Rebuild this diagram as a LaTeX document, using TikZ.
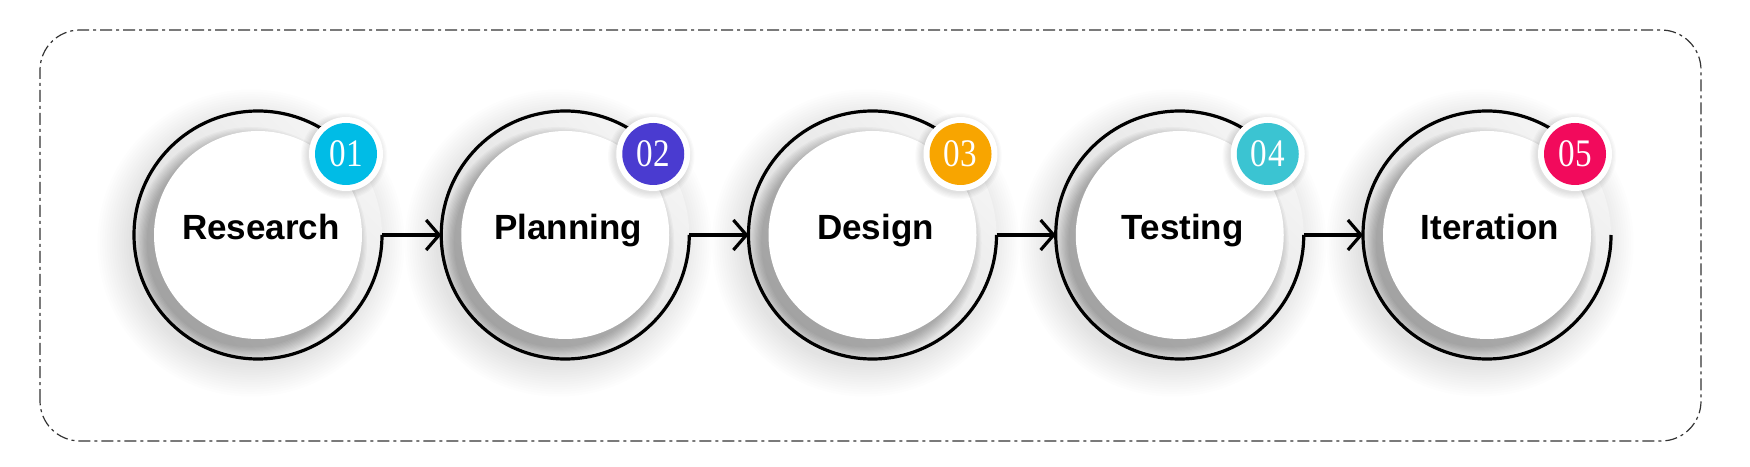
\documentclass[tikz,border=0pt]{standalone}
\usepackage{fontspec}
\setmainfont{Liberation Sans}
\newfontfamily\numfont{Liberation Serif}
\usetikzlibrary{arrows.meta}
\definecolor{bA}{HTML}{00BCE6}
\definecolor{bB}{HTML}{4A3BD0}
\definecolor{bC}{HTML}{F8A500}
\definecolor{bD}{HTML}{3BC4D2}
\definecolor{bE}{HTML}{F20A5C}
\definecolor{frame}{HTML}{333333}
\tikzset{
  ringline/.style={line width=3.2pt, draw=black},
  arr/.style={line width=3.2pt, -{Straight Barb[length=13pt,width=30pt]}},
  lbl/.style={font=\bfseries\fontsize{35}{40}\selectfont, anchor=base, inner sep=0pt},
  num/.style={font=\numfont\fontsize{39}{39}\selectfont, text=white, inner sep=0pt},
  holder/.style={circle, inner sep=0pt, outer sep=0pt, minimum size=248pt},
}
\begin{document}
\begin{tikzpicture}[x=1pt,y=1pt]
\useasboundingbox (0,0) rectangle (1750,466);
\fill[white] (0,0) rectangle (1750,466);
\draw[frame, line width=1.2pt, dash pattern=on 12pt off 4pt on 3pt off 4pt, rounded corners=40pt]
  (40,25) rectangle (1701,436);
\foreach \i/\lab/\col [count=\k] in {0/Research/bA,1/Planning/bB,2/Design/bC,3/Testing/bD,4/Iteration/bE}{
  \node[holder] (c\k) at (258+307.25*\i, 231) {};
  % outer soft shadow
  \foreach \r in {1,...,14}
    \fill[black, opacity=0.008] ([shift={(-7,-8)}]c\k) circle[radius=120+\r*2.4];
  % ring
  \shade[shading=axis, top color=black!4, bottom color=black!14, shading angle=-45]
    (c\k) circle[radius=124];
  \begin{scope}
    \clip (c\k) circle[radius=124];
    \foreach \r in {1,...,10}
      \fill[black, opacity=0.028] ([shift={(-7,-8)}]c\k) circle[radius=103+\r*1.3];
  \end{scope}
  \fill[white] (c\k) circle[radius=104];
  % outline arc
  \draw[ringline] (c\k.east) arc[start angle=0, end angle=-305, radius=124];
  % label
  \node[lbl] (l\k) at ([shift={(3,-5)}]c\k) {\lab};
  % badge
  \foreach \r in {1,...,6}
    \fill[black, opacity=0.018] ([shift={(86,79)}]c\k.center) circle[radius=36+\r*1.2];
  \node[circle, fill=white, minimum size=74pt, inner sep=0pt] (w\k) at ([shift={(88,81)}]c\k) {};
  \node[circle, fill=\col, minimum size=62pt, inner sep=0pt] (b\k) at (w\k) {};
  \node[num] at (b\k) {\scalebox{0.85}[1]{0\kern1pt\k}};
}
\draw[arr] (c1.east) -- (c2.west);
\draw[arr] (c2.east) -- (c3.west);
\draw[arr] (c3.east) -- (c4.west);
\draw[arr] (c4.east) -- (c5.west);
\end{tikzpicture}
\end{document}
